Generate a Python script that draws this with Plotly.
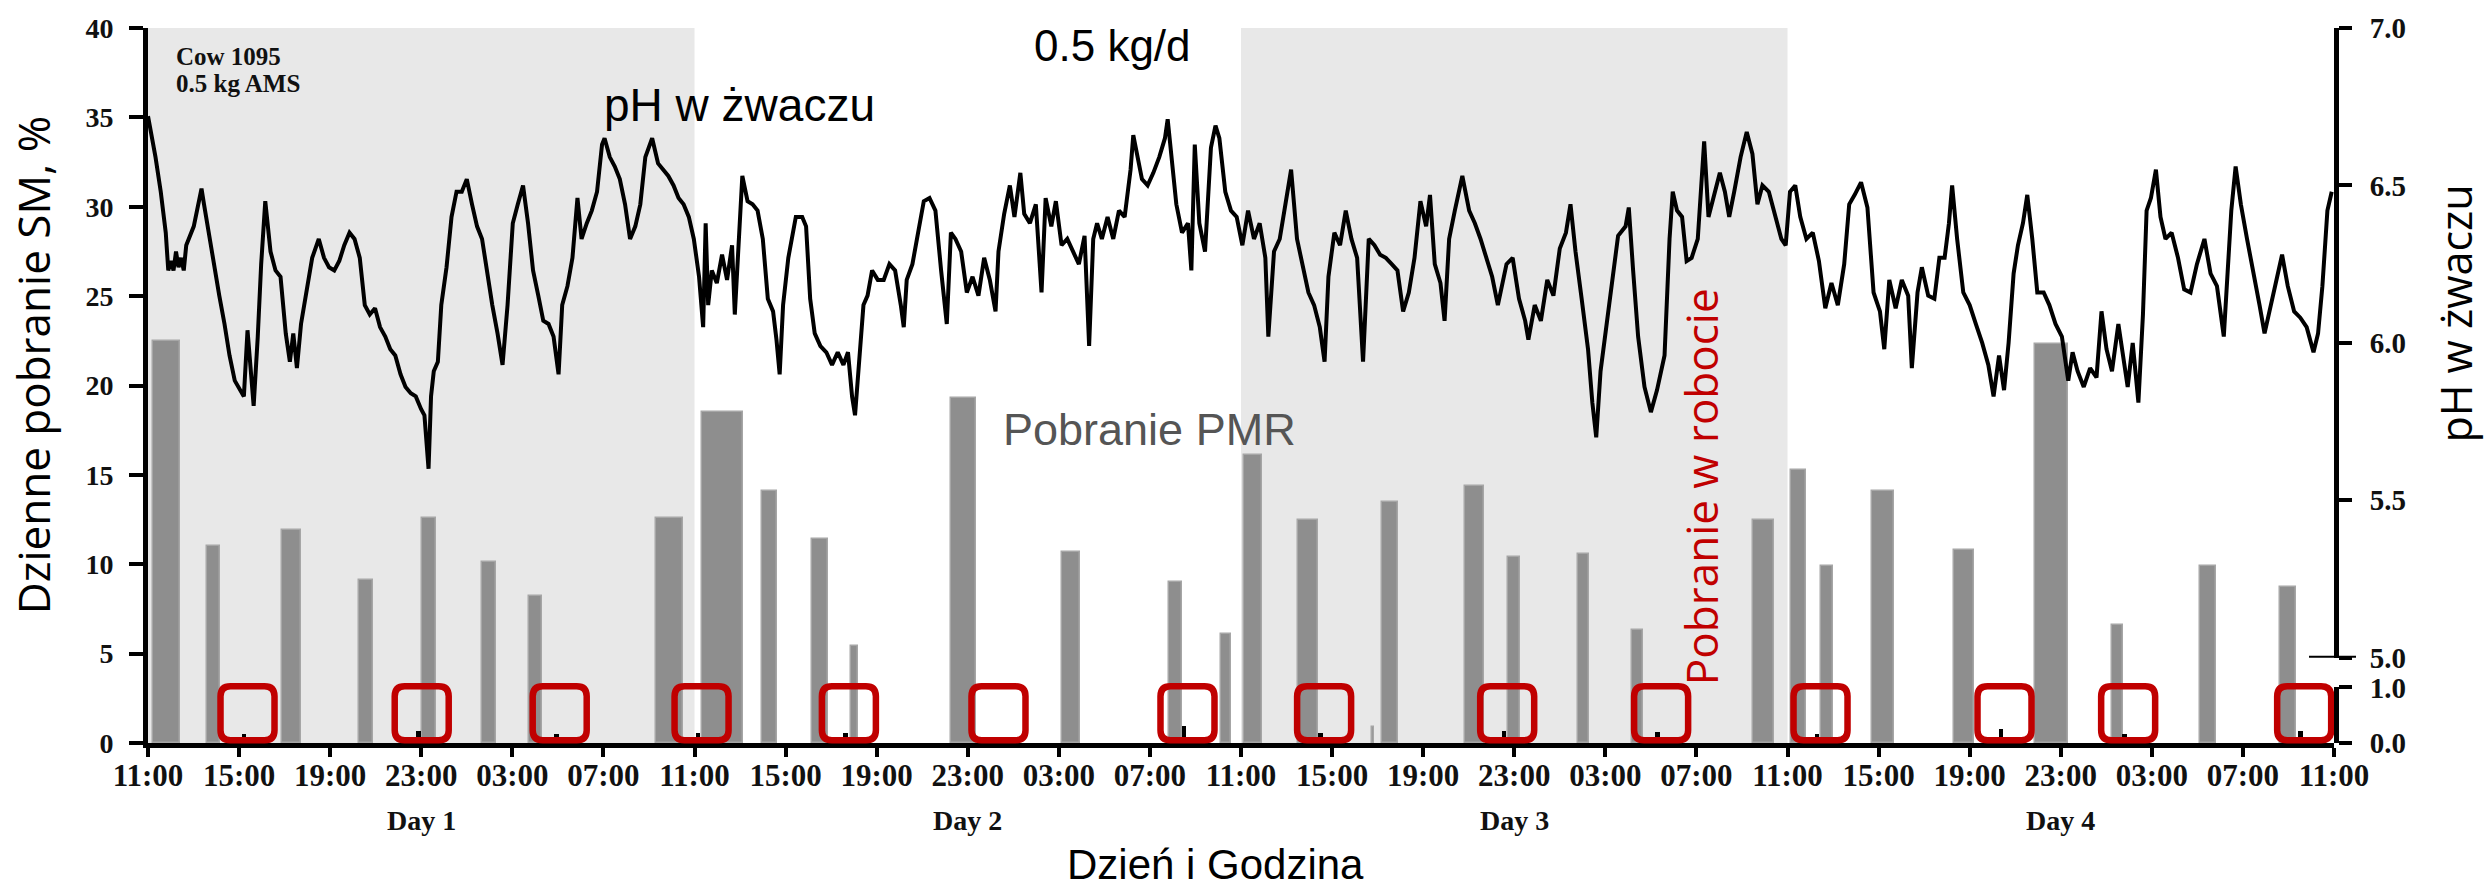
import plotly.graph_objects as go

# ---------------- data ----------------
# PMR meals: start (h after Day 1 11:00), duration (h), intake (% of daily DM)
meal_start = [0.22, 2.58, 5.89, 9.28, 12.02, 14.67, 16.74, 22.31, 24.34, 26.97,
              29.14, 30.88, 35.25, 40.12, 44.84, 47.12, 48.13, 50.50, 53.75, 54.20,
              57.85, 59.74, 62.80, 65.16, 70.48, 72.14, 73.49, 75.72, 79.31, 82.87,
              86.26, 90.12, 93.63]
meal_duration = [1.17, 0.57, 0.81, 0.61, 0.63, 0.61, 0.56, 1.17, 1.79, 0.67,
                 0.73, 0.32, 1.13, 0.81, 0.58, 0.43, 0.80, 0.86, 0.10, 0.70,
                 0.83, 0.51, 0.50, 0.50, 0.94, 0.69, 0.50, 0.94, 0.88, 1.46,
                 0.47, 0.69, 0.71]
meal_intake = [22.5, 11.0, 11.9, 9.1, 12.6, 10.1, 8.2, 12.6, 18.5, 14.1,
               11.4, 5.4, 19.3, 10.7, 9.0, 6.1, 16.1, 12.5, 0.9, 13.5,
               14.4, 10.4, 10.6, 6.3, 12.5, 15.3, 9.9, 14.1, 10.8, 22.3,
               6.6, 9.9, 8.7]

# Concentrate eaten in the milking robot (kg)
robot_time = [4.22, 11.87, 17.93, 24.16, 30.63, 37.2, 45.5, 51.5, 59.54, 66.3,
              73.3, 81.38, 86.81, 94.54]
robot_intake = [0.15, 0.20, 0.15, 0.17, 0.18, 0.03, 0.30, 0.17, 0.21, 0.19,
                0.16, 0.25, 0.16, 0.20]

# Rumen pH
ph_time = [
    0.00, 0.33, 0.56, 0.67, 0.78, 0.89, 1.01, 1.12, 1.23, 1.34, 1.45, 1.57, 1.68, 2.01,
    2.35, 2.46, 2.69, 2.91, 3.13, 3.36, 3.58, 3.81, 4.03, 4.21, 4.37, 4.48, 4.64, 4.82,
    4.97, 5.15, 5.38, 5.60, 5.82, 6.05, 6.23, 6.38, 6.54, 6.72, 6.94, 7.21, 7.50, 7.73,
    7.95, 8.18, 8.40, 8.62, 8.85, 9.07, 9.30, 9.52, 9.74, 9.97, 10.19, 10.42, 10.64,
    10.86, 11.09, 11.31, 11.54, 11.76, 11.99, 12.14, 12.32, 12.43, 12.55, 12.73, 12.88,
    13.11, 13.33, 13.55, 13.78, 14.00, 14.23, 14.45, 14.67, 14.90, 15.12, 15.35, 15.57,
    15.79, 16.02, 16.24, 16.47, 16.69, 16.91, 17.14, 17.36, 17.59, 17.81, 18.03, 18.19,
    18.42, 18.64, 18.86, 19.04, 19.27, 19.49, 19.72, 19.94, 20.05, 20.28, 20.50, 20.72,
    20.95, 21.17, 21.40, 21.62, 21.84, 22.14, 22.40, 22.63, 22.85, 23.08, 23.30, 23.52,
    23.75, 23.97, 24.20, 24.38, 24.49, 24.60, 24.76, 24.98, 25.21, 25.43, 25.65, 25.77,
    25.99, 26.10, 26.33, 26.55, 26.77, 27.00, 27.22, 27.45, 27.60, 27.74, 27.89, 28.12,
    28.45, 28.73, 28.90, 29.08, 29.28, 29.53, 29.79, 30.04, 30.29, 30.54, 30.74, 30.92,
    31.05, 31.25, 31.42, 31.60, 31.80, 32.05, 32.31, 32.56, 32.81, 33.06, 33.19, 33.32,
    33.57, 33.82, 34.07, 34.32, 34.58, 34.83, 35.08, 35.26, 35.46, 35.71, 35.96, 36.21,
    36.47, 36.72, 36.97, 37.22, 37.35, 37.60, 37.85, 38.05, 38.31, 38.48, 38.73, 38.99,
    39.24, 39.42, 39.67, 39.87, 40.12, 40.37, 40.63, 40.88, 41.13, 41.33, 41.51, 41.68,
    41.89, 42.14, 42.39, 42.64, 42.89, 43.15, 43.27, 43.45, 43.65, 43.90, 44.15, 44.41,
    44.66, 44.78, 44.96, 45.16, 45.41, 45.67, 45.82, 45.97, 46.17, 46.42, 46.68, 46.88,
    47.05, 47.31, 47.56, 47.81, 48.06, 48.31, 48.57, 48.82, 49.07, 49.20, 49.45, 49.70,
    49.95, 50.20, 50.46, 50.71, 50.96, 51.21, 51.46, 51.67, 51.84, 52.10, 52.35, 52.60,
    52.85, 53.10, 53.36, 53.61, 53.86, 54.11, 54.36, 54.62, 54.87, 55.12, 55.37, 55.62,
    55.88, 56.13, 56.30, 56.51, 56.76, 56.94, 57.14, 57.39, 57.72, 58.02, 58.27, 58.52,
    58.78, 59.03, 59.28, 59.66, 59.93, 60.21, 60.48, 60.62, 60.90, 61.17, 61.45, 61.72,
    62.00, 62.27, 62.47, 62.69, 62.96, 63.24, 63.43, 63.60, 63.79, 64.07, 64.29, 64.56,
    64.89, 65.03, 65.22, 65.44, 65.72, 66.00, 66.27, 66.60, 66.82, 66.96, 67.15, 67.37,
    67.57, 67.79, 68.06, 68.34, 68.53, 68.75, 69.03, 69.25, 69.44, 69.66, 69.94, 70.21,
    70.46, 70.68, 70.90, 71.18, 71.45, 71.73, 71.92, 72.11, 72.34, 72.56, 72.83, 73.11,
    73.38, 73.66, 73.93, 74.21, 74.49, 74.71, 74.95, 75.23, 75.51, 75.78, 76.06, 76.25,
    76.47, 76.75, 77.02, 77.30, 77.46, 77.71, 77.90, 78.18, 78.45, 78.67, 78.90, 79.09,
    79.23, 79.45, 79.72, 80.00, 80.27, 80.55, 80.82, 81.05, 81.29, 81.51, 81.71, 81.93,
    82.12, 82.34, 82.53, 82.75, 82.97, 83.25, 83.50, 83.77, 84.05, 84.33, 84.52, 84.74,
    85.01, 85.29, 85.57, 85.79, 86.01, 86.25, 86.53, 86.72, 86.94, 87.16, 87.41, 87.61,
    87.77, 87.96, 88.18, 88.38, 88.60, 88.87, 89.15, 89.42, 89.70, 89.98, 90.31, 90.58,
    90.86, 91.16, 91.35, 91.49, 91.68, 91.91, 92.18, 92.46, 92.73, 92.95, 93.23, 93.45,
    93.72, 93.97, 94.25, 94.52, 94.80, 95.10, 95.30, 95.49, 95.71, 95.90]
ph_value = [
    6.72, 6.59, 6.48, 6.42, 6.35, 6.23, 6.26, 6.23, 6.29, 6.24, 6.27, 6.23, 6.31, 6.37,
    6.49, 6.44, 6.34, 6.23, 6.15, 6.06, 5.96, 5.88, 5.85, 5.83, 6.04, 5.93, 5.80, 6.02,
    6.25, 6.45, 6.29, 6.23, 6.21, 6.03, 5.94, 6.03, 5.92, 6.06, 6.15, 6.27, 6.33, 6.27,
    6.24, 6.23, 6.26, 6.31, 6.35, 6.33, 6.27, 6.12, 6.09, 6.11, 6.05, 6.02, 5.98,
    5.96, 5.90, 5.86, 5.84, 5.83, 5.79, 5.77, 5.60, 5.83, 5.91, 5.94, 6.12,
    6.24, 6.40, 6.48, 6.48, 6.52, 6.44, 6.37, 6.33, 6.22, 6.12, 6.03, 5.93,
    6.12, 6.38, 6.44, 6.50, 6.38, 6.23, 6.15, 6.07, 6.06, 6.02, 5.90, 6.12,
    6.18, 6.27, 6.46, 6.33, 6.38, 6.42, 6.48, 6.63, 6.65, 6.59, 6.56, 6.52,
    6.44, 6.33, 6.37, 6.44, 6.59, 6.65, 6.57, 6.55, 6.53, 6.50, 6.46, 6.44,
    6.40, 6.33, 6.21, 6.05, 6.38, 6.12, 6.23, 6.19, 6.28, 6.20, 6.31, 6.09,
    6.38, 6.53, 6.45, 6.44, 6.42, 6.33, 6.14, 6.10, 6.01, 5.90, 6.12, 6.27,
    6.40, 6.40, 6.37, 6.14, 6.03, 5.99, 5.97, 5.93, 5.97, 5.93, 5.97, 5.83,
    5.77, 5.96, 6.12, 6.15, 6.23, 6.20, 6.20, 6.25, 6.23, 6.12, 6.05, 6.20,
    6.25, 6.35, 6.45, 6.46, 6.42, 6.23, 6.06, 6.35, 6.33, 6.29, 6.16, 6.21,
    6.15, 6.27, 6.20, 6.10, 6.29, 6.41, 6.50, 6.40, 6.54, 6.41, 6.38, 6.44,
    6.16, 6.46, 6.37, 6.45, 6.31, 6.33, 6.29, 6.25, 6.34, 5.99, 6.33, 6.38,
    6.33, 6.40, 6.33, 6.42, 6.40, 6.55, 6.66, 6.60, 6.52, 6.50, 6.54, 6.59,
    6.65, 6.71, 6.59, 6.44, 6.35, 6.38, 6.23, 6.63, 6.38, 6.29, 6.62, 6.69,
    6.65, 6.48, 6.42, 6.40, 6.31, 6.42, 6.33, 6.38, 6.27, 6.02, 6.29, 6.33,
    6.44, 6.55, 6.33, 6.25, 6.16, 6.12, 6.05, 5.94, 6.21, 6.35, 6.31, 6.42,
    6.33, 6.27, 5.94, 6.33, 6.31, 6.28, 6.27, 6.25, 6.23, 6.10, 6.16, 6.27,
    6.45, 6.37, 6.47, 6.25, 6.19, 6.07, 6.33, 6.42, 6.53, 6.42, 6.38, 6.33,
    6.27, 6.21, 6.12, 6.25, 6.27, 6.14, 6.07, 6.01, 6.12, 6.07, 6.20, 6.15,
    6.30, 6.35, 6.44, 6.29, 6.14, 5.98, 5.81, 5.70, 5.91, 6.07, 6.21, 6.34,
    6.37, 6.43, 6.23, 6.02, 5.86, 5.78, 5.85, 5.96, 6.33, 6.48, 6.42, 6.40,
    6.26, 6.27, 6.33, 6.64, 6.40, 6.46, 6.54, 6.48, 6.40, 6.48, 6.59, 6.67,
    6.60, 6.44, 6.50, 6.48, 6.40, 6.33, 6.31, 6.48, 6.50, 6.40, 6.33, 6.35,
    6.26, 6.11, 6.19, 6.12, 6.25, 6.44, 6.47, 6.51, 6.43, 6.16, 6.10, 5.98,
    6.20, 6.11, 6.20, 6.15, 5.92, 6.16, 6.24, 6.15, 6.14, 6.27, 6.27, 6.38,
    6.50, 6.33, 6.16, 6.12, 6.06, 6.00, 5.93, 5.83, 5.96, 5.85, 6.00, 6.22,
    6.31, 6.38, 6.47, 6.33, 6.16, 6.16, 6.12, 6.06, 6.02, 5.88, 5.97, 5.91,
    5.86, 5.92, 5.89, 6.10, 5.98, 5.91, 6.06, 5.96, 5.86, 6.00, 5.81, 6.09,
    6.42, 6.46, 6.55, 6.40, 6.33, 6.35, 6.27, 6.17, 6.16, 6.25, 6.33, 6.22,
    6.18, 6.02, 6.27, 6.42, 6.56, 6.44, 6.33, 6.23, 6.12, 6.03, 6.12, 6.19,
    6.28, 6.18, 6.10, 6.08, 6.05, 5.97, 6.03, 6.18, 6.42, 6.48]

# Light-period shading (h) and axis labelling
shaded_spans = [(0, 24), (48, 72)]
hour_ticks = list(range(0, 97, 4))
hour_labels = ["11:00", "15:00", "19:00", "23:00", "03:00", "07:00"] * 4 + ["11:00"]
day_names = ["Day 1", "Day 2", "Day 3", "Day 4"]
day_centres = [12, 36, 60, 84]
ph_ticks = [5.0, 5.5, 6.0, 6.5, 7.0]
robot_ticks = [0.0, 1.0]

# ---------------- styling ----------------
SERIF = "Liberation Serif"
SANS = "Liberation Sans"
ROUND = "Open Sans"
RED = "#c00000"
INK = "#111111"
W, H = 2484, 892
ML, MR, MT, MB = 148, 150, 22, 149
PW, PH = W - ML - MR, H - MT - MB


def px_x(px):
    return (px - ML) / PW


def px_y(py):
    return (H - MB - py) / PH


fig = go.Figure()

fig.add_trace(go.Bar(
    x=[s + d / 2 for s, d in zip(meal_start, meal_duration)],
    y=meal_intake,
    width=meal_duration,
    marker=dict(color="#8e8e8e", line=dict(width=1.5, color="#a6a6a6")),
    yaxis="y",
    showlegend=False,
))

fig.add_trace(go.Scatter(
    x=ph_time, y=ph_value, mode="lines",
    line=dict(color="black", width=4),
    yaxis="y2", showlegend=False,
))

fig.add_trace(go.Bar(
    x=robot_time, y=robot_intake, width=0.2,
    marker=dict(color="black", line=dict(width=0)),
    yaxis="y3", showlegend=False,
))

shapes = []
for a, b in shaded_spans:
    shapes.append(dict(type="rect", xref="x", yref="paper", x0=a, x1=b, y0=0, y1=1,
                       fillcolor="#e8e8e8", line=dict(width=0), layer="below"))

# rounded red frames around each robot visit
half, r = 27, 10
frame_path = (f"M {-half},{-half + r} Q {-half},{-half} {-half + r},{-half} "
              f"L {half - r},{-half} Q {half},{-half} {half},{-half + r} "
              f"L {half},{half - r} Q {half},{half} {half - r},{half} "
              f"L {-half + r},{half} Q {-half},{half} {-half},{half - r} Z")
for t in robot_time:
    shapes.append(dict(type="path", path=frame_path,
                       xref="x", xsizemode="pixel", xanchor=t + 0.15,
                       yref="paper", ysizemode="pixel", yanchor=px_y(713),
                       line=dict(color=RED, width=6.5), layer="above"))

# inward tick at the foot of the pH scale
shapes.append(dict(type="line", xref="paper", yref="y2",
                   x0=1 - 25 / PW, x1=1 + 22 / PW, y0=5.0, y1=5.0,
                   line=dict(color="black", width=4)))

annotations = []
for name, c in zip(day_names, day_centres):
    annotations.append(dict(text=name, x=c, xref="x", y=px_y(821), yref="paper",
                            font=dict(family=SERIF, size=28, weight="bold", color=INK)))

annotations += [
    dict(text="Cow 1095", x=px_x(174), y=px_y(51), xanchor="left",
         font=dict(family=SERIF, size=25, weight="bold", color=INK)),
    dict(text="0.5 kg AMS", x=px_x(174), y=px_y(78), xanchor="left",
         font=dict(family=SERIF, size=25, weight="bold", color=INK)),
    dict(text="0.5 kg/d", x=px_x(1112), y=px_y(40),
         font=dict(family=SANS, size=44, color="black")),
    dict(text="pH w żwaczu", x=px_x(739), y=px_y(100),
         font=dict(family=SANS, size=46, color="black")),
    dict(text="Pobranie PMR", x=px_x(1149), y=px_y(427),
         font=dict(family=SANS, size=45, color="#555555")),
    dict(text="Pobranie w robocie", x=px_x(1701), y=px_y(485), textangle=-90,
         font=dict(family=ROUND, size=44, color=RED)),
    dict(text="Dzienne pobranie SM, %", x=px_x(33), y=px_y(362), textangle=-90,
         font=dict(family=ROUND, size=44, color="black")),
    dict(text="pH w żwaczu", x=px_x(2456), y=px_y(310), textangle=-90,
         font=dict(family=ROUND, size=43, color="black")),
    dict(text="Dzień i Godzina", x=px_x(1215), y=px_y(866),
         font=dict(family=SANS, size=42, color="black")),
]
for a in annotations:
    a.setdefault("xref", "paper")
    a.setdefault("yref", "paper")
    a.setdefault("showarrow", False)
    a.setdefault("xanchor", "center")
    a.setdefault("yanchor", "middle")

axis_common = dict(showgrid=False, zeroline=False, showline=True, linecolor="black",
                   linewidth=5, ticks="outside", tickcolor="black", tickwidth=4)
serif_ticks = dict(family=SERIF, weight="bold", color=INK)

fig.update_layout(
    width=W, height=H, autosize=False,
    margin=dict(l=ML, r=MR, t=MT, b=MB, pad=0),
    paper_bgcolor="white", plot_bgcolor="rgba(0,0,0,0)",
    bargap=0, showlegend=False,
    xaxis=dict(range=[0, 96], tickvals=hour_ticks, ticktext=hour_labels, ticklen=9,
               ticklabelstandoff=-8, tickfont=dict(size=31, **serif_ticks),
               **axis_common),
    yaxis=dict(range=[0, 40], tickvals=list(range(0, 41, 5)), ticklen=14,
               ticklabelstandoff=10, tickfont=dict(size=28, **serif_ticks),
               **axis_common),
    yaxis2=dict(domain=[px_y(657), 1], range=[5, 7], anchor="x", side="right",
                tickvals=ph_ticks, ticktext=[f"{v:.1f}" for v in ph_ticks], ticklen=13,
                ticklabelstandoff=12, tickfont=dict(size=29, **serif_ticks),
                **axis_common),
    yaxis3=dict(domain=[0, px_y(687)], range=[0, 1], anchor="x", side="right",
                tickvals=robot_ticks, ticktext=[f"{v:.1f}" for v in robot_ticks],
                ticklen=13, ticklabelstandoff=12, tickfont=dict(size=29, **serif_ticks),
                **axis_common),
    shapes=shapes,
    annotations=annotations,
)

fig.write_html("out.html")
